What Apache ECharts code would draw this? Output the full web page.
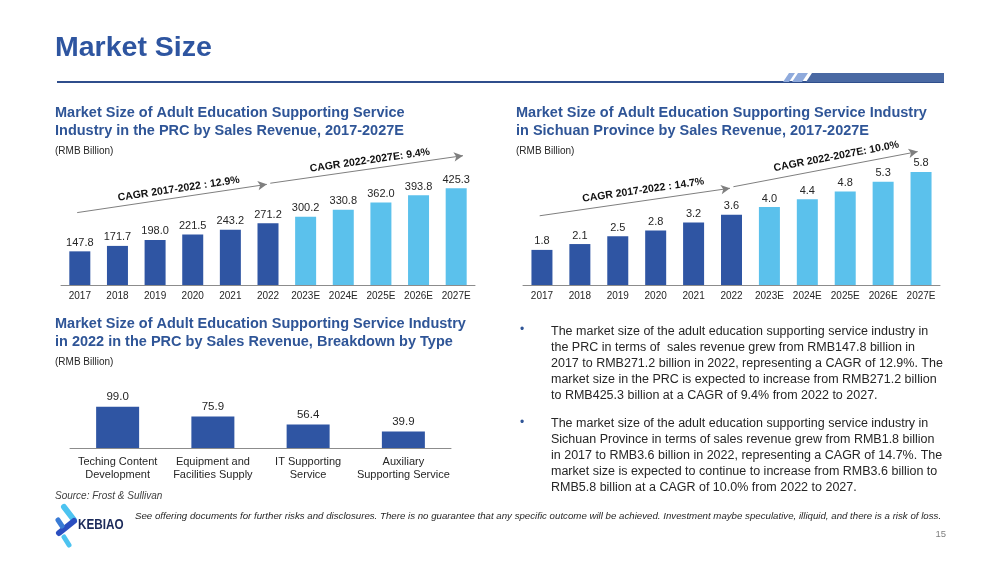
<!DOCTYPE html>
<html>
<head>
<meta charset="utf-8">
<script src="https://cdn.jsdelivr.net/npm/echarts@6/dist/echarts.min.js"></script>
<style>
html,body{margin:0;padding:0;background:#fff;}
#c{width:999px;height:562px;}
</style>
</head>
<body>
<div id="c"></div>
<script>
// ---------- data ----------
const prcYears = ['2017','2018','2019','2020','2021','2022','2023E','2024E','2025E','2026E','2027E'];
const prcValues = [147.8, 171.7, 198.0, 221.5, 243.2, 271.2, 300.2, 330.8, 362.0, 393.8, 425.3];
const scYears = ['2017','2018','2019','2020','2021','2022','2023E','2024E','2025E','2026E','2027E'];
const scValues = [1.8, 2.1, 2.5, 2.8, 3.2, 3.6, 4.0, 4.4, 4.8, 5.3, 5.8];
const typeCats = ['Teching Content\nDevelopment', 'Equipment and\nFacilities Supply', 'IT Supporting\nService', 'Auxiliary\nSupporting Service'];
const typeValues = [99.0, 75.9, 56.4, 39.9];
// CAGR arrows, in data space [category position, value]
const prcCagr = [
  {label:'CAGR 2017-2022 : 12.9%', from:[-0.07, 318], to:[4.97, 442]},
  {label:'CAGR 2022-2027E: 9.4%', from:[5.06, 447], to:[10.18, 568]}
];
const scCagr = [
  {label:'CAGR 2017-2022 : 14.7%', from:[-0.06, 3.55], to:[4.96, 4.96]},
  {label:'CAGR 2022-2027E: 10.0%', from:[5.05, 5.04], to:[9.91, 6.84]}
];
const bullet1 = 'The market size of the adult education supporting service industry in\nthe PRC in terms of  sales revenue grew from RMB147.8 billion in\n2017 to RMB271.2 billion in 2022, representing a CAGR of 12.9%. The\nmarket size in the PRC is expected to increase from RMB271.2 billion\nto RMB425.3 billion at a CAGR of 9.4% from 2022 to 2027.';
const bullet2 = 'The market size of the adult education supporting service industry in\nSichuan Province in terms of sales revenue grew from RMB1.8 billion\nin 2017 to RMB3.6 billion in 2022, representing a CAGR of 14.7%. The\nmarket size is expected to continue to increase from RMB3.6 billion to\nRMB5.8 billion at a CAGR of 10.0% from 2022 to 2027.';

// ---------- styles ----------
const FONT = '"Liberation Sans", Arial, sans-serif';
const DARK = '#2F55A3';
const LIGHT = '#5BC1EC';
const TITLE = '#2F5597';
const TXT = '#262626';
// label shift along each CAGR arrow (px, left padding)
const prcLabelPad = [16, 9];
const scLabelPad = [20, 26];

function barColor(cats){
  return p => (cats[p.dataIndex].endsWith('E') ? LIGHT : DARK);
}
function cagrMarkLine(arrows, dist, pads){
  return {
    silent:true, animation:false,
    symbol:['none','arrow'], symbolSize:[7,9],
    lineStyle:{color:'#7F7F7F', width:1, type:'solid'},
    label:{show:true, position:'insideMiddleTop', formatter:'{b}', fontWeight:'bold',
           fontSize:10.5, color:'#111', distance:dist, fontFamily:FONT},
    emphasis:{disabled:true},
    data: arrows.map((a, i) => [
      {name:a.label, coord:a.from, label:{padding:[0,0,0,pads[i]]}},
      {coord:a.to}
    ])
  };
}
const catAxisBase = {
  type:'category', axisTick:{show:false},
  axisLine:{lineStyle:{color:'#8C8C8C', width:1}},
  splitLine:{show:false}
};

function txt(x, y, text, font, fill, extra){
  return {
    type:'text', x:x, y:y, silent:true,
    style:Object.assign({text:text, font:font, fill:fill,
      align:'left', verticalAlign:'middle', textAlign:'left', textVerticalAlign:'middle'}, extra||{})
  };
}

const option = {
  animation:false,
  backgroundColor:'#ffffff',
  textStyle:{fontFamily:FONT},
  grid:[
    {left:61, top:137, width:414, height:148},
    {left:523, top:129, width:417, height:156},
    {left:70, top:398, width:381, height:50}
  ],
  xAxis:[
    Object.assign({}, catAxisBase, {gridIndex:0, data:prcYears,
      axisLabel:{fontSize:10, color:TXT, margin:6, interval:0}}),
    {type:'value', gridIndex:0, min:-0.5, max:10.5, show:false},
    Object.assign({}, catAxisBase, {gridIndex:1, data:scYears,
      axisLabel:{fontSize:10, color:TXT, margin:6, interval:0}}),
    {type:'value', gridIndex:1, min:-0.5, max:10.5, show:false},
    Object.assign({}, catAxisBase, {gridIndex:2, data:typeCats,
      axisLabel:{fontSize:11, color:TXT, margin:7, interval:0, lineHeight:13}})
  ],
  yAxis:[
    {type:'value', gridIndex:0, min:0, max:650, show:false},
    {type:'value', gridIndex:1, min:0, max:8, show:false},
    {type:'value', gridIndex:2, min:0, max:120, show:false}
  ],
  series:[
    {type:'bar', xAxisIndex:0, yAxisIndex:0, data:prcValues, barWidth:21,
     itemStyle:{color:barColor(prcYears)},
     label:{show:true, position:'top', distance:3, fontSize:11, color:TXT,
            formatter:p=>p.value.toFixed(1)}},
    {type:'line', xAxisIndex:1, yAxisIndex:0, data:[], markLine:cagrMarkLine(prcCagr, 3, prcLabelPad)},
    {type:'bar', xAxisIndex:2, yAxisIndex:1, data:scValues, barWidth:21,
     itemStyle:{color:barColor(scYears)},
     label:{show:true, position:'top', distance:3, fontSize:11, color:TXT,
            formatter:p=>p.value.toFixed(1)}},
    {type:'line', xAxisIndex:3, yAxisIndex:1, data:[], markLine:cagrMarkLine(scCagr, 5, scLabelPad)},
    {type:'bar', xAxisIndex:4, yAxisIndex:2, data:typeValues, barWidth:43,
     itemStyle:{color:DARK},
     label:{show:true, position:'top', distance:4, fontSize:11.5, color:TXT,
            formatter:p=>p.value.toFixed(1)}}
  ],
  graphic:{elements:[
    // header
    txt(55, 48, 'Market Size', 'bold 28.5px ' + FONT, '#2E55A0'),
    {type:'line', silent:true, shape:{x1:57, y1:82, x2:944, y2:82}, style:{stroke:'#2F4E8C', lineWidth:2}},
    {type:'polygon', silent:true, shape:{points:[[789,73],[795,73],[789,82],[783,82]]}, style:{fill:'#8FAADC'}},
    {type:'polygon', silent:true, shape:{points:[[798,73],[808,73],[802,82],[792,82]]}, style:{fill:'#8FAADC'}},
    {type:'polygon', silent:true, shape:{points:[[812,73],[944,73],[944,82],[806,82]]}, style:{fill:'#4A69A3'}},
    // chart titles
    txt(55, 104, 'Market Size of Adult Education Supporting Service\nIndustry in the PRC by Sales Revenue, 2017-2027E',
        'bold 14.5px ' + FONT, TITLE, {verticalAlign:'top', textVerticalAlign:'top', lineHeight:18}),
    txt(55, 151, '(RMB Billion)', '10px ' + FONT, TXT),
    txt(516, 104, 'Market Size of Adult Education Supporting Service Industry\nin Sichuan Province by Sales Revenue, 2017-2027E',
        'bold 14.5px ' + FONT, TITLE, {verticalAlign:'top', textVerticalAlign:'top', lineHeight:18}),
    txt(516, 151, '(RMB Billion)', '10px ' + FONT, TXT),
    txt(55, 315, 'Market Size of Adult Education Supporting Service Industry\nin 2022 in the PRC by Sales Revenue, Breakdown by Type',
        'bold 14.5px ' + FONT, TITLE, {verticalAlign:'top', textVerticalAlign:'top', lineHeight:18}),
    txt(55, 362, '(RMB Billion)', '10px ' + FONT, TXT),
    // bullets
    txt(520, 330, '\u2022', '12px ' + FONT, TITLE),
    txt(551, 323.5, bullet1, '12.5px ' + FONT, TXT, {verticalAlign:'top', textVerticalAlign:'top', lineHeight:16}),
    txt(520, 423, '\u2022', '12px ' + FONT, TITLE),
    txt(551, 416, bullet2, '12.5px ' + FONT, TXT, {verticalAlign:'top', textVerticalAlign:'top', lineHeight:16}),
    // footer
    txt(55, 496, 'Source: Frost & Sullivan', 'italic 10px ' + FONT, '#404040'),
    txt(135, 516, 'See offering documents for further risks and disclosures. There is no guarantee that any specific outcome will be achieved. Investment maybe speculative, illiquid, and there is a risk of loss.',
        'italic 9.7px ' + FONT, TXT),
    txt(946, 534, '15', '9.5px ' + FONT, '#7F7F7F', {align:'right', textAlign:'right'}),
    // logo
    {type:'polyline', silent:true, shape:{points:[[64,507],[74,520]]}, style:{stroke:'#4CC3F0', lineWidth:6, lineCap:'round'}},
    {type:'polyline', silent:true, shape:{points:[[74,521],[59,533]]}, style:{stroke:'#2B4EC0', lineWidth:6, lineCap:'round'}},
    {type:'polyline', silent:true, shape:{points:[[58,520],[62,526]]}, style:{stroke:'#3A7BD5', lineWidth:5, lineCap:'round'}},
    {type:'polyline', silent:true, shape:{points:[[64,537],[69,545]]}, style:{stroke:'#4CC3F0', lineWidth:5, lineCap:'round'}},
    {type:'text', silent:true, x:78, y:525, scaleX:0.78,
     style:{text:'KEBIAO', font:'bold 15px ' + FONT, fill:'#1B2A5A', align:'left', verticalAlign:'middle', textAlign:'left', textVerticalAlign:'middle'}}
  ]}
};

const chart = echarts.init(document.getElementById('c'), null, {renderer:'canvas'});
chart.setOption(option);
</script>
</body>
</html>
